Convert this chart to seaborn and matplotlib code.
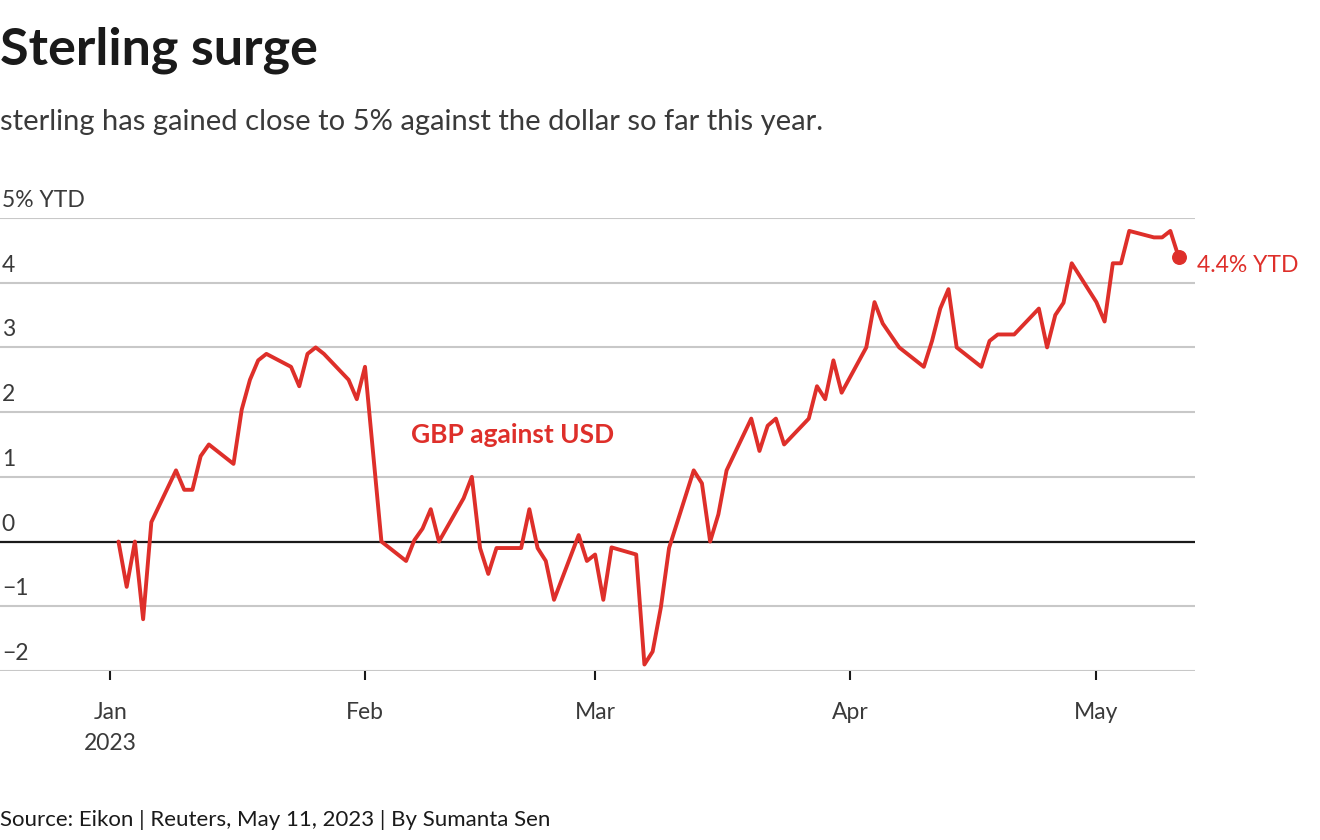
import matplotlib
matplotlib.use("Agg")
import matplotlib.pyplot as plt
import matplotlib.dates as mdates
import seaborn as sns
import pandas as pd
import numpy as np

# GBP vs USD, % change year to date
dates = [
    "2023-01-02", "2023-01-03", "2023-01-04", "2023-01-05", "2023-01-06",
    "2023-01-09", "2023-01-10", "2023-01-11", "2023-01-12", "2023-01-13",
    "2023-01-16", "2023-01-17", "2023-01-18", "2023-01-19", "2023-01-20",
    "2023-01-23", "2023-01-24", "2023-01-25", "2023-01-26", "2023-01-27",
    "2023-01-30", "2023-01-31", "2023-02-01", "2023-02-03",
    "2023-02-06", "2023-02-07", "2023-02-08", "2023-02-09", "2023-02-10",
    "2023-02-13", "2023-02-14", "2023-02-15", "2023-02-16", "2023-02-17",
    "2023-02-20", "2023-02-21", "2023-02-22", "2023-02-23", "2023-02-24",
    "2023-02-27", "2023-02-28", "2023-03-01", "2023-03-02", "2023-03-03",
    "2023-03-06", "2023-03-07", "2023-03-08", "2023-03-09", "2023-03-10",
    "2023-03-13", "2023-03-14", "2023-03-15", "2023-03-16", "2023-03-17",
    "2023-03-20", "2023-03-21", "2023-03-22", "2023-03-23", "2023-03-24",
    "2023-03-27", "2023-03-28", "2023-03-29", "2023-03-30", "2023-03-31",
    "2023-04-03", "2023-04-04", "2023-04-05", "2023-04-07",
    "2023-04-10", "2023-04-11", "2023-04-12", "2023-04-13", "2023-04-14",
    "2023-04-17", "2023-04-18", "2023-04-19", "2023-04-21",
    "2023-04-24", "2023-04-25", "2023-04-26", "2023-04-27", "2023-04-28",
    "2023-05-01", "2023-05-02", "2023-05-03", "2023-05-04", "2023-05-05",
    "2023-05-08", "2023-05-09", "2023-05-10", "2023-05-11",
]
ytd_change = [
    0.0, -0.7, 0.0, -1.2, 0.3,
    1.1, 0.8, 0.8, 1.32, 1.5,
    1.2, 2.04, 2.5, 2.8, 2.9,
    2.7, 2.4, 2.9, 3.0, 2.9,
    2.5, 2.2, 2.7, 0.0,
    -0.3, 0.02, 0.2, 0.5, 0.0,
    0.67, 1.0, -0.1, -0.5, -0.1,
    -0.1, 0.5, -0.1, -0.3, -0.9,
    0.1, -0.3, -0.2, -0.9, -0.09,
    -0.2, -1.9, -1.7, -1.02, -0.1,
    1.1, 0.9, 0.0, 0.42, 1.1,
    1.9, 1.4, 1.79, 1.9, 1.5,
    1.9, 2.4, 2.2, 2.8, 2.3,
    3.0, 3.7, 3.37, 3.0,
    2.7, 3.1, 3.6, 3.9, 3.0,
    2.7, 3.1, 3.2, 3.2,
    3.6, 3.0, 3.5, 3.69, 4.3,
    3.7, 3.4, 4.3, 4.3, 4.8,
    4.7, 4.7, 4.8, 4.4,
]

y_ticks = [-2, -1, 0, 1, 2, 3, 4, 5]
y_labels = ["\u22122", "\u22121", "0", "1", "2", "3", "4", "5% YTD"]
month_ticks = ["2023-01-01", "2023-02-01", "2023-03-01", "2023-04-01", "2023-05-01"]
month_labels = ["Jan\n2023", "Feb", "Mar", "Apr", "May"]

df = pd.DataFrame({"date": pd.to_datetime(dates), "change": ytd_change})

red = "#de2f2a"
grey_text = "#3a3a3a"

sns.set_style("white")
plt.rcParams["font.family"] = ["Lato", "DejaVu Sans"]

fig = plt.figure(figsize=(13.2, 8.4), dpi=100)
ax = fig.add_axes([0.0, 0.2012, 0.9053, 0.5393])

# gridlines
for v in y_ticks:
    if v == 0:
        continue
    ax.axhline(v, color="#c8c8c8", lw=1.5, zorder=1)
ax.axhline(0, color="#1a1a1a", lw=1.6, zorder=2)

sns.lineplot(data=df, x="date", y="change", color=red, lw=2.8, ax=ax, zorder=3)
last = df.iloc[-1]
ax.scatter([last["date"]], [last["change"]], s=95, color=red, zorder=4, clip_on=False)
ax.annotate("4.4% YTD", (mdates.date2num(last["date"]), last["change"]),
            xytext=(13, -6), textcoords="offset points", ha="left", va="center",
            color=red, fontsize=16.5, annotation_clip=False)

ax.text(pd.Timestamp("2023-02-19"), 1.64, "GBP against USD", color=red,
        fontsize=19, fontweight="bold", ha="center", va="center")

ax.set_xlim(pd.Timestamp("2022-12-18 14:00"), pd.Timestamp("2023-05-13"))
ax.set_ylim(-2, 5)

# y labels sit above their gridlines at the left
ax.set_yticks([])
for v, lab in zip(y_ticks, y_labels):
    ax.annotate(lab, (0.0015, v), xycoords=("axes fraction", "data"),
                xytext=(0, 5), textcoords="offset points", ha="left", va="bottom",
                color=grey_text, fontsize=16.5)

ax.set_xticks(pd.to_datetime(month_ticks))
ax.set_xticklabels(month_labels, fontsize=16.5, color=grey_text, linespacing=1.6)
ax.tick_params(axis="x", bottom=True, length=6.5, width=1.5, color="#1a1a1a",
               pad=16, direction="out")
ax.set_xlabel("")
ax.set_ylabel("")
sns.despine(ax=ax, left=True, bottom=True)

fig.text(0.0, 0.9405, "Sterling surge", fontsize=37.5, fontweight="bold",
         color="#1a1a1a", ha="left", va="center")
fig.text(0.0, 0.8548, "sterling has gained close to 5% against the dollar so far this year.",
         fontsize=21, color=grey_text, ha="left", va="center")
fig.text(0.0, 0.0238, "Source: Eikon | Reuters, May 11, 2023 | By Sumanta Sen",
         fontsize=16, color="#1a1a1a", ha="left", va="center")

fig.savefig("out.png", dpi=100)
